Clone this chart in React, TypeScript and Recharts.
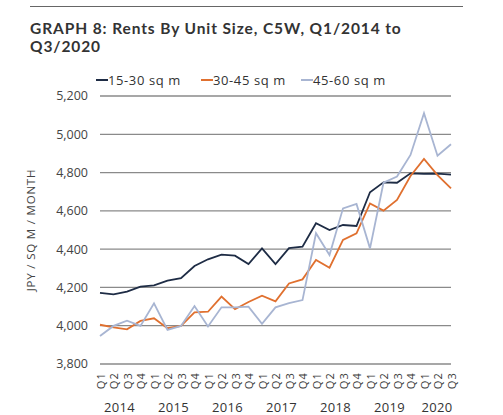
import { LineChart, Line, XAxis, YAxis, CartesianGrid } from "recharts";

const periods = [
  "Q1/2014", "Q2/2014", "Q3/2014", "Q4/2014",
  "Q1/2015", "Q2/2015", "Q3/2015", "Q4/2015",
  "Q1/2016", "Q2/2016", "Q3/2016", "Q4/2016",
  "Q1/2017", "Q2/2017", "Q3/2017", "Q4/2017",
  "Q1/2018", "Q2/2018", "Q3/2018", "Q4/2018",
  "Q1/2019", "Q2/2019", "Q3/2019", "Q4/2019",
  "Q1/2020", "Q2/2020", "Q3/2020",
];

const small = [
  4172, 4164, 4178, 4204, 4211, 4235, 4248, 4312, 4347, 4371, 4366, 4322, 4404, 4322,
  4405, 4413, 4535, 4500, 4526, 4521, 4697, 4749, 4747, 4796, 4793, 4794, 4789,
];
const medium = [
  4005, 3991, 3981, 4025, 4039, 3987, 3999, 4070, 4073, 4152, 4086, 4124, 4157, 4127,
  4221, 4242, 4343, 4303, 4448, 4483, 4639, 4601, 4657, 4782, 4871, 4787, 4718,
];
const large = [
  3946, 3999, 4026, 3999, 4117, 3978, 3999, 4103, 3996, 4096, 4096, 4100, 4010, 4096,
  4118, 4134, 4483, 4369, 4613, 4636, 4404, 4747, 4779, 4892, 5110, 4888, 4948,
];

const yTicks = [3800, 4000, 4200, 4400, 4600, 4800, 5000, 5200];

const series = [
  { key: "small", name: "15-30 sq m", color: "#1e2c45" },
  { key: "medium", name: "30-45 sq m", color: "#e0702f" },
  { key: "large", name: "45-60 sq m", color: "#a8b5d2" },
];

const data = periods.map((p, i) => ({
  period: p,
  small: small[i],
  medium: medium[i],
  large: large[i],
}));

const W = 503;
const H = 415;
const MARGIN = { top: 96, right: 52, bottom: 0, left: 40 };
const Y_W = 60;
const STEP = (W - MARGIN.left - Y_W - MARGIN.right) / periods.length;
const FONT = "'Open Sans', 'DejaVu Sans', sans-serif";

function QuarterTick(props: any) {
  const { x, y, payload } = props;
  const [q, year] = String(payload.value).split("/");
  const inYear = periods.filter((p) => p.endsWith(year)).length;
  return (
    <g>
      <text
        x={x}
        y={y}
        transform={`rotate(-90, ${x}, ${y})`}
        textAnchor="end"
        dominantBaseline="central"
        fontSize={11}
        letterSpacing={1.2}
        fill="#3a3a3a"
        fontFamily={FONT}
      >
        {q}
      </text>
      {q === "Q1" && (
        <text
          x={x + ((inYear - 1) / 2) * STEP}
          y={y + 40}
          textAnchor="middle"
          fontSize={13}
          letterSpacing={0.3}
          fill="#333"
          fontFamily={FONT}
        >
          {year}
        </text>
      )}
    </g>
  );
}

export default function App() {
  return (
    <div
      style={{
        position: "absolute",
        left: 0,
        top: 0,
        width: W,
        height: H,
        background: "#fff",
        fontFamily: FONT,
        overflow: "hidden",
      }}
    >
      <div style={{ position: "absolute", left: 30, top: 6, width: 433, borderTop: "1px solid #666" }} />
      <div
        style={{
          position: "absolute",
          left: 30,
          top: 19,
          width: 450,
          fontFamily: "Lato, 'Open Sans', sans-serif",
          fontSize: 15.5,
          fontWeight: 700,
          lineHeight: "18px",
          letterSpacing: 0.9,
          color: "#333",
        }}
      >
        GRAPH 8: Rents By Unit Size, C5W, Q1/2014 to
        <br />
        Q3/2020
      </div>

      {series.map((s, i) => (
        <div
          key={s.key}
          style={{
            position: "absolute",
            left: [96, 201, 301][i],
            top: 71,
            display: "flex",
            alignItems: "center",
            fontSize: 13,
            letterSpacing: 0.6,
            color: "#333",
            whiteSpace: "nowrap",
          }}
        >
          <span style={{ display: "inline-block", width: 12, height: 2, background: s.color }} />
          <span>{s.name}</span>
        </div>
      ))}

      <div
        style={{
          position: "absolute",
          left: 30,
          top: 230,
          transform: "translate(-50%, -50%) rotate(-90deg)",
          fontSize: 11.5,
          letterSpacing: 0.8,
          color: "#444",
          whiteSpace: "nowrap",
        }}
      >
        JPY / SQ M / MONTH
      </div>

      <div style={{ position: "absolute", left: 0, top: 0 }}>
        <LineChart width={W} height={H} data={data} margin={MARGIN}>
          <CartesianGrid vertical={false} stroke="#8a8a8a" strokeWidth={1.3} />
          <XAxis
            dataKey="period"
            interval={0}
            tickLine={false}
            axisLine={false}
            height={51}
            tick={<QuarterTick />}
          />
          <YAxis
            width={Y_W}
            domain={[3800, 5200]}
            ticks={yTicks}
            interval={0}
            tickLine={false}
            axisLine={false}
            tickMargin={6}
            tickFormatter={(v: number) => v.toLocaleString("en-US")}
            tick={{ fontSize: 12.5, fill: "#444", fontFamily: FONT }}
          />
          {series.map((s) => (
            <Line
              key={s.key}
              dataKey={s.key}
              name={s.name}
              stroke={s.color}
              strokeWidth={1.8}
              dot={false}
              type="linear"
              isAnimationActive={false}
            />
          ))}
        </LineChart>
      </div>
    </div>
  );
}
